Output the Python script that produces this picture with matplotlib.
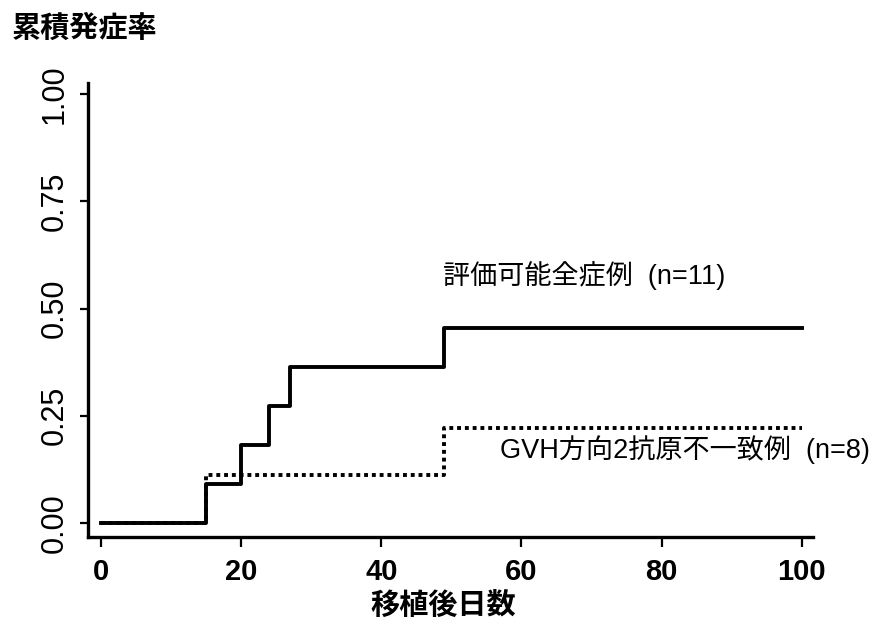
import matplotlib
matplotlib.use("Agg")
import matplotlib.pyplot as plt

plt.rcParams['font.family'] = ['Noto Sans CJK JP', 'DejaVu Sans']

# cumulative incidence, step curves
days_all = [0, 15, 20, 24, 27, 49, 100]
rate_all = [0, 0.091, 0.182, 0.273, 0.364, 0.455, 0.455]
days_gvh = [0, 15, 49, 100]
rate_gvh = [0, 0.111, 0.222, 0.222]

x_ticks = [0, 20, 40, 60, 80, 100]
y_ticks = [0, 0.25, 0.5, 0.75, 1.0]
y_tick_labels = ["0.00", "0.25", "0.50", "0.75", "1.00"]

fig = plt.figure(figsize=(8.76, 6.24), dpi=100)
ax = fig.add_axes([0.1005, 0.1394, 0.8276, 0.7276])

ax.step(days_all, rate_all, where='post', color='black', lw=2.8)
ax.step(days_gvh, rate_gvh, where='post', color='black', lw=2.8, linestyle=(0, (1, 1)))

ax.set_xlim(-1.85, 101.6)
ax.set_ylim(-0.033, 1.026)

for s in ['top', 'right']:
    ax.spines[s].set_visible(False)
for s in ['left', 'bottom']:
    ax.spines[s].set_linewidth(2.4)

ax.tick_params(axis='x', length=7, width=1.6, pad=8, labelsize=21)
ax.tick_params(axis='y', length=6, width=1.6, pad=7, labelsize=22)

ax.set_xticks(x_ticks)
ax.set_xticklabels([str(v) for v in x_ticks])
ax.set_yticks(y_ticks)
ax.set_yticklabels(y_tick_labels)
for lab in ax.get_xticklabels():
    lab.set_fontfamily(['Liberation Sans Narrow', 'Liberation Sans'])
    lab.set_fontweight('bold')
for lab in ax.get_yticklabels():
    lab.set_fontfamily(['Liberation Sans'])
    lab.set_rotation(90)
    lab.set_va('center')

ann_font = ['Liberation Sans', 'Noto Sans CJK JP']
ax.text(48.8, 0.578, "評価可能全症例  (n=11)", fontsize=19.5, va='center', ha='left',
        family=ann_font)
ax.text(56.9, 0.170, "GVH方向2抗原不一致例  (n=8)", fontsize=19.5, va='center', ha='left',
        family=ann_font)

fig.text(12 / 876, 1 - 28 / 624, "累積発症率", fontsize=21, fontweight='bold',
         ha='left', va='center')
fig.text(443 / 876, 1 - 605 / 624, "移植後日数", fontsize=21, fontweight='bold',
         ha='center', va='center')

fig.savefig("out.png", dpi=100)
